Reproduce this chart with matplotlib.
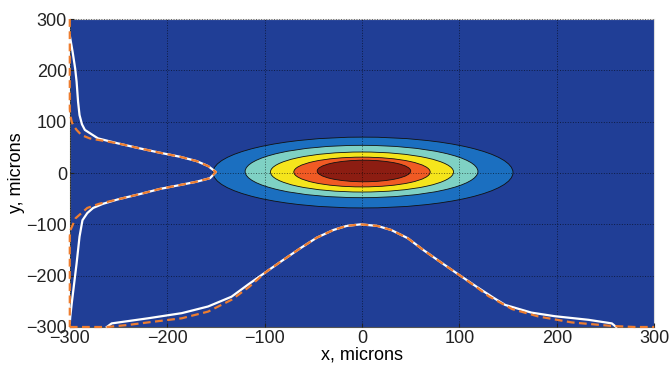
import matplotlib
matplotlib.use("Agg")
import matplotlib.pyplot as plt
from matplotlib.patches import Ellipse

plt.rcParams['font.family'] = ['Liberation Sans', 'DejaVu Sans']

# = = = beam contour levels (outer -> inner), extents in microns = = =
level_x_lo = [-153, -120, -94, -70, -46]
level_x_hi = [155, 119, 94, 70, 50]
level_y_lo = [-68, -48, -37, -27, -17]
level_y_hi = [70, 54, 41, 31, 25]
level_colors = ['#1b6fc0', '#7fd1c4', '#f5e51c', '#f05a24', '#8c1d12']
background = '#203e96'

# = = = vertical profile (left side), measured = = =
left_meas_y = [268, 235, 204, 178, 139, 113, 95, 84, 76, 67.5, 58, 48, 39.6, 31.8, 23.4, 13.6, 2,
               -10, -17, -23.4, -31, -41, -51, -60, -68, -78, -92, -124, -176, -215, -254, -280, -292]
left_meas_x = [-300, -297, -294.5, -293, -291.5, -290, -287.5, -284.5, -278, -271, -251, -228, -207.5,
               -187, -170, -158, -150,
               -156, -170, -187, -207.5, -228, -250, -266, -276, -282, -287, -290, -293, -295.5, -298,
               -299.5, -300]
# fitted
left_fit_y = [300, 125, 113, 100, 93.5, 84, 74, 67.5, 58, 48, 39.6, 31.8, 23.4, 13.6, 2,
              -10, -17, -23.4, -31, -41, -51, -60, -68, -78, -88, -101, -112, -124, -300]
left_fit_x = [-300, -300, -299.5, -298, -296.6, -293, -288, -279.5, -251, -228, -207.5, -187, -170,
              -158, -150,
              -156, -170, -187, -207.5, -228, -250, -270, -282, -288, -294, -297, -299.5, -300, -300]

# = = = horizontal profile (bottom), measured = = =
bot_meas_x = [-262, -257, -219.5, -185, -158, -134, -116, -98, -81, -63.7, -46.5, -29.4, -15.7, -1.5,
              15.7, 30, 47, 63, 80, 97, 118, 135, 147, 174, 198, 232.5, 256.5, 261]
bot_meas_y = [-300, -293, -283, -273, -260, -241, -216, -192, -169.5, -147, -126, -111, -103, -100,
              -103, -111, -127, -150, -172.7, -195, -222, -243, -257, -272, -279, -286, -293, -300]
# fitted
bot_fit_x = [-300, -262, -240, -219.5, -185, -158, -134, -116, -98, -81, -63.7, -46.5, -29.4, -15.7,
             -1.5, 15.7, 30, 47, 63, 80, 97, 118, 130, 154, 181, 215, 256.5, 280, 300]
bot_fit_y = [-300, -300, -296, -291, -283, -270, -247, -222, -192, -169.5, -147, -126, -111, -103,
             -100, -103, -111, -127, -150, -172.7, -195, -223, -240, -265, -279.5, -291, -298, -300, -300]

ticks = [-300, -200, -100, 0, 100, 200, 300]

fig = plt.figure(figsize=(6.71, 3.67), dpi=100)
ax = fig.add_axes([0.104, 0.109, 0.871, 0.839])
ax.set_facecolor(background)

# Filled contour bands
for i in range(len(level_colors)):
    cx = (level_x_lo[i] + level_x_hi[i]) / 2
    cy = (level_y_lo[i] + level_y_hi[i]) / 2
    w = level_x_hi[i] - level_x_lo[i]
    hgt = level_y_hi[i] - level_y_lo[i]
    ax.add_patch(Ellipse((cx, cy), w, hgt, facecolor=level_colors[i],
                         edgecolor='#111111', linewidth=0.6, zorder=1))

# Profiles: measured (white) then fit (orange dashed)
ax.plot(left_meas_x, left_meas_y, color='white', lw=1.6, zorder=3, clip_on=False)
ax.plot(bot_meas_x, bot_meas_y, color='white', lw=1.6, zorder=3, clip_on=False)
ax.plot(left_fit_x, left_fit_y, color='#ee7d2f', lw=1.6, ls=(0, (3.5, 2)), zorder=4, clip_on=False)
ax.plot(bot_fit_x, bot_fit_y, color='#ee7d2f', lw=1.6, ls=(0, (3.5, 2)), zorder=4, clip_on=False)

ax.set_xlim(-300, 300)
ax.set_ylim(-300, 300)
ax.set_xticks(ticks)
ax.set_yticks(ticks)
ax.grid(True, color='black', linestyle=':', linewidth=0.7, alpha=0.55, zorder=2)
ax.set_axisbelow(False)
ax.tick_params(direction='in', length=3, labelsize=13, colors='#222222', pad=2)
for s in ax.spines.values():
    s.set_color('#555555')
    s.set_linewidth(0.8)
ax.spines['top'].set_color('#dddddd')
ax.spines['right'].set_color('#dddddd')

ax.set_xlabel('x, microns', fontsize=13, labelpad=0)
ax.set_ylabel('y, microns', fontsize=13, labelpad=1)

fig.savefig('out.png', dpi=100)
